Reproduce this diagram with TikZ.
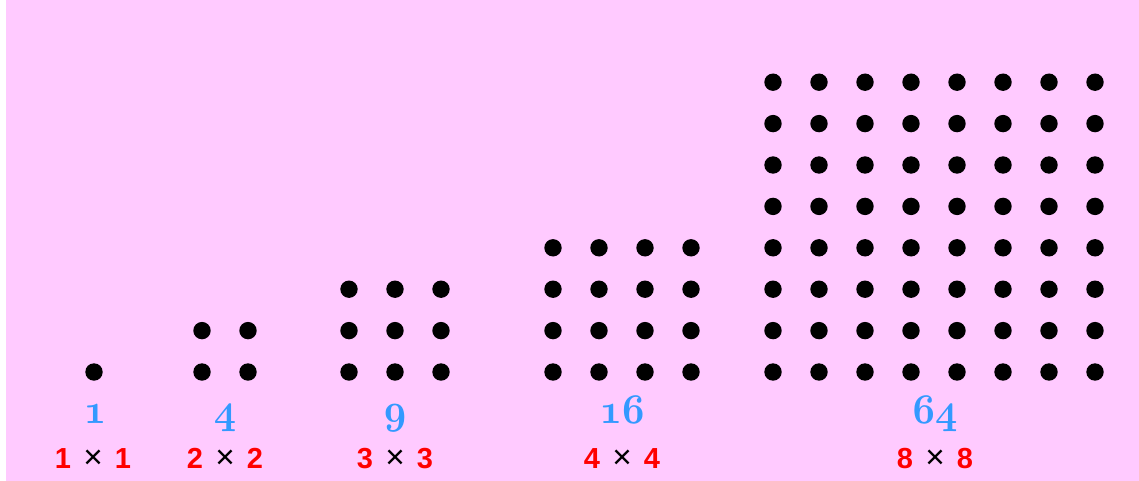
\documentclass[tikz,border=0pt]{standalone}
\usepackage{fontspec}
\usepackage{graphicx}
\newfontfamily\lsans{Liberation Sans}
\font\oldnumb=cmmib10 at 39pt
\definecolor{bgpink}{HTML}{FFCAFF}
\definecolor{numblue}{HTML}{3399FF}
\definecolor{facred}{HTML}{FF0000}
\tikzset{
  dot/.style={circle,fill=black,inner sep=0pt,minimum size=17.4pt},
  sq/.style={anchor=base,text=numblue,inner sep=0pt,font=\oldnumb},
  prod/.style={anchor=base,inner sep=0pt,font=\lsans\fontsize{29}{31}\selectfont}
}
\newcommand{\fac}[1]{{\bfseries\color{facred}#1}\hspace{0.42em}{\color{black}\scalebox{1.15}{×}}\hspace{0.42em}{\bfseries\color{facred}#1}}
\newcommand{\sqn}[1]{\scalebox{1}[1.08]{#1}}
\begin{document}
\begin{tikzpicture}[x=1pt,y=-1pt]
\useasboundingbox (0,0) rectangle (1139,481);
\fill[white] (0,0) rectangle (1139,481);
\fill[bgpink] (6,0) rectangle (1139,481);
% dot grids
\foreach \g/\n/\xo in {a/1/94,b/2/202,c/3/349,d/4/553,e/8/773}{
  \foreach \i in {1,...,\n}{
    \foreach \j in {1,...,\n}{
      \node[dot] (\g-\i-\j) at ({\xo+(\i-1)*46},{372-(\j-1)*41.4}) {};
    }
  }
}
% square numbers
\node[sq] (sa) at (95,423) {\sqn{1}};
\node[sq] (sb) at (225,423) {\sqn{4}};
\node[sq] (sc) at (395,423) {\sqn{9}};
\node[sq] (sd) at (622,423) {\sqn{16}};
\node[sq] (se) at (935,423) {\sqn{64}};
% products
\node[prod] (pa) at (93,468) {\fac{1}};
\node[prod] (pb) at (225,468) {\fac{2}};
\node[prod] (pc) at (395,468) {\fac{3}};
\node[prod] (pd) at (622,468) {\fac{4}};
\node[prod] (pe) at (935,468) {\fac{8}};
\end{tikzpicture}
\end{document}
